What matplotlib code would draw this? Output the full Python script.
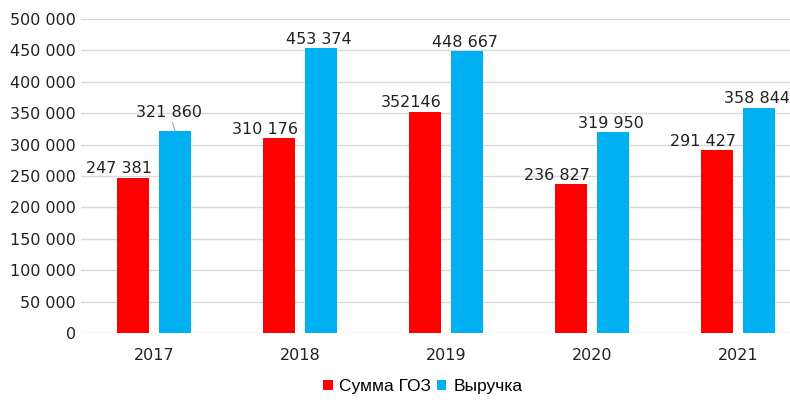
import matplotlib.pyplot as plt
from matplotlib.ticker import FuncFormatter

years = ['2017', '2018', '2019', '2020', '2021']
goz = [247381, 310176, 352146, 236827, 291427]
revenue = [321860, 453374, 448667, 319950, 358844]
goz_labels = ['247 381', '310 176', '352146', '236 827', '291 427']
rev_labels = ['321 860', '453 374', '448 667', '319 950', '358 844']

fig = plt.figure(figsize=(7.9, 4.0), dpi=100)
# axis runs past the right edge, as in the cropped original
ax = fig.add_axes([81 / 790, 67 / 400, 730 / 790, 314 / 400])

x = range(len(years))
w = 0.22
off = 0.144
ax.bar([i - off for i in x], goz, w, color='#FF0000', label='Сумма ГОЗ', zorder=3)
ax.bar([i + off for i in x], revenue, w, color='#00B0F0', label='Выручка', zorder=3)

for i in x:
    ax.annotate(goz_labels[i], (i - off, goz[i]), xytext=(-10, 1), textcoords='offset points',
                ha='center', va='bottom', fontsize=11.5, color='#222222')
    if i == 0:
        # this one was dragged up in the original, with a leader line
        ax.annotate(rev_labels[i], (i + off, revenue[i]), xytext=(-4, 8), textcoords='offset points',
                    ha='center', va='bottom', fontsize=11.5, color='#222222',
                    arrowprops=dict(arrowstyle='-', color='#a6a6a6', lw=0.8, shrinkA=0, shrinkB=0))
    else:
        ax.annotate(rev_labels[i], (i + off, revenue[i]), xytext=(-1.5, 1), textcoords='offset points',
                    ha='center', va='bottom', fontsize=11.5, color='#222222')

ax.set_xlim(-0.5, 4.5)
ax.set_ylim(0, 500000)
ax.set_yticks(range(0, 500001, 50000))
ax.yaxis.set_major_formatter(FuncFormatter(lambda v, p: f'{int(v):,}'.replace(',', ' ')))
ax.set_xticks(list(x))
ax.set_xticklabels(years)
ax.tick_params(length=0, labelsize=11.5, colors='#222222')
ax.tick_params(axis='x', pad=11)
ax.grid(axis='y', color='#d9d9d9', linewidth=1, zorder=0)
for s in ax.spines.values():
    s.set_visible(False)

fig.legend(loc='lower center', bbox_to_anchor=(0.535, -0.025), ncol=2, frameon=False,
           handlelength=0.55, handleheight=0.55, handletextpad=0.4, columnspacing=0.3,
           prop={'family': 'Liberation Sans', 'size': 12.5})

fig.savefig('out.png', dpi=100)
